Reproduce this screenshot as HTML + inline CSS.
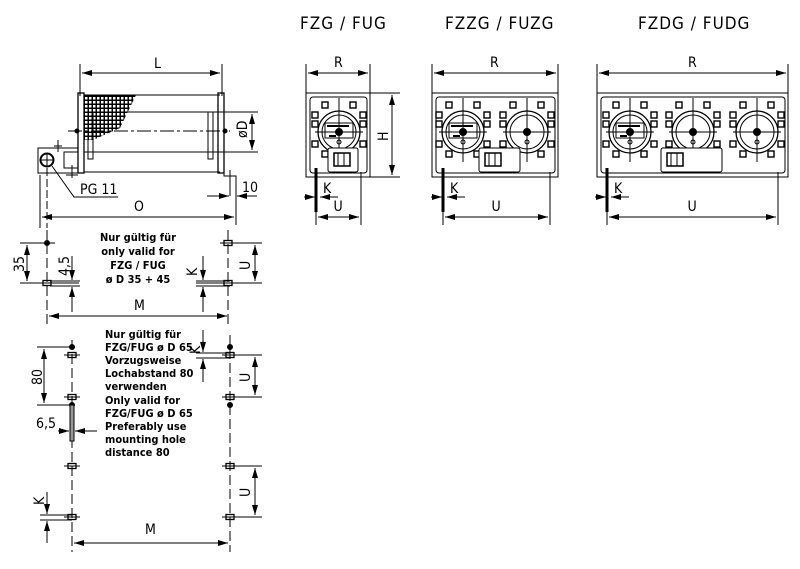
<!DOCTYPE html>
<html><head><meta charset="utf-8"><style>
html,body{margin:0;padding:0;background:#fff;width:800px;height:569px;overflow:hidden}
svg{display:block}
text{font-family:"DejaVu Sans Condensed","Liberation Sans",sans-serif;fill:#000}
.t{font-size:11px;font-weight:bold}
.d{font-size:14px}
</style></head><body>
<svg id="s" width="800" height="569" viewBox="0 0 800 569" xmlns="http://www.w3.org/2000/svg" stroke="#000" fill="none" stroke-width="1">
<defs>
<marker id="a" viewBox="0 0 10 6" refX="10" refY="3" markerWidth="10" markerHeight="6" orient="auto-start-reverse" markerUnits="userSpaceOnUse"><path d="M0,0L10,3L0,6z" fill="#000" stroke="none"/></marker>
<pattern id="dots" width="4" height="4" patternUnits="userSpaceOnUse"><rect width="4" height="4" fill="#fff"/><path d="M0,0.5H4M0.5,0V4" stroke="#000" stroke-width="1"/></pattern>
</defs>

<g stroke="none">
<text x="300" y="29" style="font-size:17px;letter-spacing:1px">FZG / FUG</text>
<text x="445" y="29" style="font-size:17px;letter-spacing:1px">FZZG / FUZG</text>
<text x="638" y="29" style="font-size:17px;letter-spacing:1px">FZDG / FUDG</text>
</g>

<line x1="80" y1="64" x2="80" y2="96"/><line x1="222" y1="64" x2="222" y2="96"/>
<line x1="82" y1="73" x2="220" y2="73" marker-start="url(#a)" marker-end="url(#a)"/>
<text class="d" x="154" y="68" stroke="none">L</text>
<path d="M84,95 L136,95 L120,128 L93,140 L84,140z" fill="url(#dots)" stroke="none"/>
<line x1="84" y1="95" x2="220" y2="95"/>
<line x1="84" y1="112" x2="258" y2="112"/>
<line x1="84" y1="152" x2="258" y2="152"/>
<line x1="84" y1="172" x2="220" y2="172"/>
<rect x="78" y="93" width="6" height="80" stroke-width="1.3"/>
<rect x="218" y="93" width="6" height="80" stroke-width="1.3"/>
<rect x="88" y="112" width="5" height="47"/><rect x="208" y="112" width="5" height="47"/>
<line x1="68" y1="131" x2="230" y2="131" stroke-dasharray="14,3,3,3"/>
<circle cx="77" cy="131" r="2" fill="#000"/><circle cx="225" cy="131" r="2" fill="#000"/>
<line x1="252" y1="114" x2="252" y2="150" marker-start="url(#a)" marker-end="url(#a)"/>
<text class="d" x="0" y="0" stroke="none" transform="translate(247,138) rotate(-90)">øD</text>
<rect x="38" y="148" width="40" height="25"/>
<circle cx="47" cy="160" r="6.5" stroke-width="2"/><line x1="40" y1="160" x2="54" y2="160"/><line x1="47" y1="153" x2="47" y2="167"/>
<rect x="64" y="152" width="14" height="16"/>
<line x1="58" y1="140" x2="58" y2="152"/><line x1="54" y1="146" x2="62" y2="146"/>
<line x1="72" y1="165" x2="72" y2="178"/><line x1="66" y1="175" x2="78" y2="175"/>
<path d="M224,172 L224,176 L236,176 L236,225"/>
<line x1="230" y1="170" x2="230" y2="196"/>
<path d="M52,166 L74,197 L118,197"/>
<text class="d" x="80" y="194" stroke="none">PG 11</text>
<line x1="207" y1="196" x2="229" y2="196" marker-end="url(#a)"/>
<line x1="257" y1="196" x2="237" y2="196" marker-end="url(#a)"/>
<text class="d" x="242" y="192" stroke="none">10</text>
<line x1="40" y1="175" x2="40" y2="228"/>
<line x1="47" y1="168" x2="47" y2="228" stroke-dasharray="8,3"/>
<line x1="42" y1="217" x2="234" y2="217" marker-start="url(#a)" marker-end="url(#a)"/>
<text class="d" x="134" y="211" stroke="none">O</text>

<g id="views"></g>

<g>
<line x1="306" y1="64" x2="306" y2="93"/><line x1="370" y1="64" x2="370" y2="93"/>
<line x1="308" y1="73" x2="368" y2="73" marker-start="url(#a)" marker-end="url(#a)"/>
<text class="d" x="334" y="67" stroke="none">R</text>
<line x1="432" y1="64" x2="432" y2="93"/><line x1="558" y1="64" x2="558" y2="93"/>
<line x1="434" y1="73" x2="556" y2="73" marker-start="url(#a)" marker-end="url(#a)"/>
<text class="d" x="490" y="67" stroke="none">R</text>
<line x1="597" y1="64" x2="597" y2="93"/><line x1="788" y1="64" x2="788" y2="93"/>
<line x1="599" y1="73" x2="786" y2="73" marker-start="url(#a)" marker-end="url(#a)"/>
<text class="d" x="688" y="67" stroke="none">R</text>
<line x1="370" y1="93" x2="400" y2="93"/><line x1="370" y1="177" x2="400" y2="177"/>
<line x1="392" y1="95" x2="392" y2="175" marker-start="url(#a)" marker-end="url(#a)"/>
<text class="d" x="0" y="0" stroke="none" transform="translate(388,141) rotate(-90)">H</text>
</g>

<g id="holes"></g>
<g stroke="none">
<text class="d" x="0" y="0" transform="translate(24,272) rotate(-90)">35</text>
<text class="d" x="0" y="0" transform="translate(69,276) rotate(-90)">4,5</text>
<text class="d" x="134" y="310">M</text>
<text class="d" x="0" y="0" transform="translate(197,276) rotate(-90)">K</text>
<text class="d" x="0" y="0" transform="translate(250,270) rotate(-90)">U</text>
<text class="d" x="0" y="0" transform="translate(42,385) rotate(-90)">80</text>
<text class="d" x="36" y="428">6,5</text>
<text class="d" x="0" y="0" transform="translate(200,354) rotate(-90)">K</text>
<text class="d" x="0" y="0" transform="translate(250,382) rotate(-90)">U</text>
<text class="d" x="0" y="0" transform="translate(250,497) rotate(-90)">U</text>
<text class="d" x="0" y="0" transform="translate(44,505) rotate(-90)">K</text>
<text class="d" x="145" y="534">M</text>
<g class="t" text-anchor="middle">
<text x="138" y="241">Nur gültig für</text>
<text x="138" y="255">only valid for</text>
<text x="138" y="269">FZG / FUG</text>
<text x="138" y="283">ø D 35 + 45</text>
</g>
<g class="t">
<text x="105" y="338">Nur gültig für</text>
<text x="105" y="351">FZG/FUG ø D 65</text>
<text x="105" y="364">Vorzugsweise</text>
<text x="105" y="377">Lochabstand 80</text>
<text x="105" y="390">verwenden</text>
<text x="105" y="404">Only valid for</text>
<text x="105" y="417">FZG/FUG ø D 65</text>
<text x="105" y="430">Preferably use</text>
<text x="105" y="443">mounting hole</text>
<text x="105" y="456">distance 80</text>
</g>
</g>
</svg>
<script>
var NS="http://www.w3.org/2000/svg";
function el(p,t,a){var e=document.createElementNS(NS,t);for(var k in a)e.setAttribute(k,a[k]);p.appendChild(e);return e;}
function ln(p,x1,y1,x2,y2,ex){var a={x1:x1,y1:y1,x2:x2,y2:y2};for(var k in ex||{})a[k]=ex[k];return el(p,"line",a);}
function txt(p,x,y,s,rot){var t=el(p,"text",{x:rot?0:x,y:rot?0:y,"class":"d",stroke:"none"});if(rot)t.setAttribute("transform","translate("+x+","+y+") rotate(-90)");t.textContent=s;}
var V=document.getElementById("views");
function mod(cx,cy,ins){
  var sq=[[-17,-30],[11,-30],[-27,-20],[21,-20],[-27,-11],[21,-11],[-27,9],[21,9],[-17,19],[11,19]];
  sq.forEach(function(q){el(V,"rect",{x:cx+q[0],y:cy+q[1],width:6,height:6,"stroke-width":1.4});});
  el(V,"circle",{cx:cx,cy:cy,r:21,"stroke-width":1.3});
  el(V,"circle",{cx:cx,cy:cy,r:17});
  el(V,"circle",{cx:cx,cy:cy,r:3.5,fill:"#000"});
  el(V,"circle",{cx:cx,cy:cy+10,r:2});
  ln(V,cx-24,cy,cx+24,cy);ln(V,cx,cy-34,cx,cy+30);
  if(ins){el(V,"rect",{x:cx-14,y:cy-9,width:28,height:15});ln(V,cx-12,cy-6,cx+10,cy-6,{"stroke-width":2});ln(V,cx-10,cy+4,cx-3,cy+4,{"stroke-width":2});}
}
function box(x1,x2,foot,u2,cs,term){
  el(V,"rect",{x:x1,y:93,width:x2-x1,height:84});
  el(V,"rect",{x:x1+4,y:97,width:x2-x1-7,height:76,rx:3});
  cs.forEach(function(c,i){mod(c,132,i==0);});
  el(V,"rect",{x:term[0],y:148,width:term[1]-term[0],height:24,rx:2,fill:"#fff"});
  el(V,"rect",{x:term[0]+6,y:153,width:16,height:13,"stroke-width":1.5});
  ln(V,term[0]+10,153,term[0]+10,166);ln(V,term[0]+16,153,term[0]+16,166);
  ln(V,foot,168,foot,212,{"stroke-width":3});
  ln(V,foot,212,foot,225);ln(V,u2,172,u2,225);
  ln(V,foot-12,197,foot-1,197,{"marker-end":"url(#a)"});
  ln(V,foot+22,197,foot+4,197,{"marker-end":"url(#a)"});
  txt(V,foot+7,193,"K");
  ln(V,foot+2,217,u2-2,217,{"marker-start":"url(#a)","marker-end":"url(#a)"});
  txt(V,(foot+u2)/2-5,211,"U");
}
box(306,370,316,361,[339],[328,358]);
box(432,558,443,550,[463,527],[479,520]);
box(597,788,607,778,[630,693,757],[661,722]);
var H=document.getElementById("holes");
function dot(x,y){el(H,"circle",{cx:x,cy:y,r:2.5,fill:"#000"});}
function slot(x,y,l,r){el(H,"rect",{x:x-4,y:y-2.5,width:8,height:5,"stroke-width":1.3});ln(H,x-(l||8),y,x+(r||8),y);}
function cl(x,y1,y2){ln(H,x,y1,x,y2,{"stroke-dasharray":"10,4"});}
cl(47,230,326);dot(47,243);slot(47,283,4,32);
ln(H,55,243,20,243);ln(H,20,283,55,283);
ln(H,27,245,27,281,{"marker-start":"url(#a)","marker-end":"url(#a)"});
ln(H,50,281,80,281);ln(H,50,286,80,286);
ln(H,72,256,72,280,{"marker-end":"url(#a)"});ln(H,72,312,72,287,{"marker-end":"url(#a)"});
cl(228,230,326);slot(228,243,8,32);slot(228,283,32,32);
ln(H,230,243,262,243);ln(H,230,283,262,283);
ln(H,255,245,255,281,{"marker-start":"url(#a)","marker-end":"url(#a)"});
ln(H,203,256,203,280,{"marker-end":"url(#a)"});ln(H,203,312,203,287,{"marker-end":"url(#a)"});
ln(H,196,281,230,281);ln(H,196,286,230,286);
ln(H,49,316,227,316,{"marker-start":"url(#a)","marker-end":"url(#a)"});
cl(72,340,552);cl(230,335,552);
[[72,347],[72,405],[230,347],[230,405]].forEach(function(p){dot(p[0],p[1]);});
[355,397,466,517].forEach(function(y){slot(72,y);slot(230,y);});
el(H,"rect",{x:70,y:405,width:4,height:36,fill:"#999"});
ln(H,70,405,70,441);ln(H,74,405,74,441);
ln(H,72,347,37,347);ln(H,72,405,37,405);
ln(H,44,349,44,403,{"marker-start":"url(#a)","marker-end":"url(#a)"});
ln(H,58,431,69,431,{"marker-end":"url(#a)"});ln(H,97,431,75,431,{"marker-end":"url(#a)"});
ln(H,196,353,230,353);ln(H,196,358,230,358);
ln(H,203,330,203,352,{"marker-end":"url(#a)"});ln(H,203,382,203,359,{"marker-end":"url(#a)"});
ln(H,232,355,262,355);ln(H,232,397,262,397);
ln(H,255,357,255,395,{"marker-start":"url(#a)","marker-end":"url(#a)"});
ln(H,232,466,262,466);ln(H,232,517,262,517);
ln(H,255,468,255,515,{"marker-start":"url(#a)","marker-end":"url(#a)"});
ln(H,40,515,72,515);ln(H,40,520,72,520);
ln(H,47,492,47,514,{"marker-end":"url(#a)"});ln(H,47,543,47,521,{"marker-end":"url(#a)"});
ln(H,74,543,228,543,{"marker-start":"url(#a)","marker-end":"url(#a)"});
</script>
</body></html>
